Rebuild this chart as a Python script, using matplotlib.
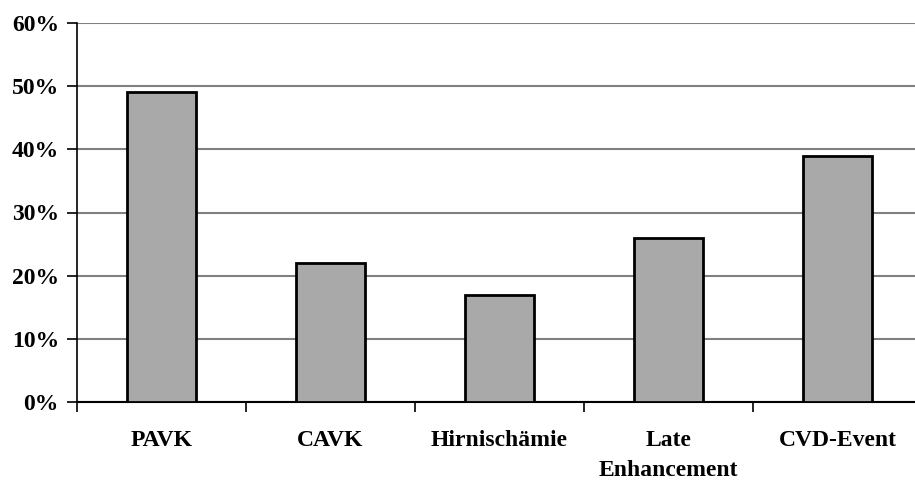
import matplotlib
matplotlib.use("Agg")
import matplotlib.pyplot as plt
import numpy as np

categories = ["PAVK", "CAVK", "Hirnischämie", "Late\nEnhancement", "CVD-Event"]
values = [49, 22, 17, 26, 39]
yticks = [0, 10, 20, 30, 40, 50, 60]
ytick_labels = ["0%", "10%", "20%", "30%", "40%", "50%", "60%"]

plt.rcParams['font.family'] = ['Liberation Serif', 'DejaVu Serif']
plt.rcParams['font.weight'] = 'bold'

fig = plt.figure(figsize=(9.15, 4.8), dpi=100)
ax = fig.add_axes([77/915, 78/480, 845/915, 379/480])

x = np.arange(len(categories))
ax.bar(x, values, width=0.41, color='#a9a9a9', edgecolor='black', linewidth=2, zorder=3)

ax.set_xlim(-0.5, len(categories) - 0.5)
ax.set_ylim(0, 60)
ax.set_yticks(yticks)
ax.set_yticklabels(ytick_labels, fontsize=17, fontweight='bold')
ax.yaxis.grid(True, color='#808080', linewidth=1.5, zorder=0)

ax.set_xticks(x)
ax.set_xticklabels(categories, fontsize=17, fontweight='bold', linespacing=1.6)
ax.set_xticks(np.arange(len(categories) + 1) - 0.5, minor=True)
ax.tick_params(axis='x', which='major', length=0, pad=20)
ax.tick_params(axis='x', which='minor', length=7, width=1.2, direction='out')
ax.tick_params(axis='y', length=7, width=1.2, direction='out', pad=6)

for s in ['top', 'right']:
    ax.spines[s].set_visible(False)
ax.spines['left'].set_linewidth(1.2)
ax.spines['bottom'].set_linewidth(1.5)

fig.savefig("out.png", dpi=100)
